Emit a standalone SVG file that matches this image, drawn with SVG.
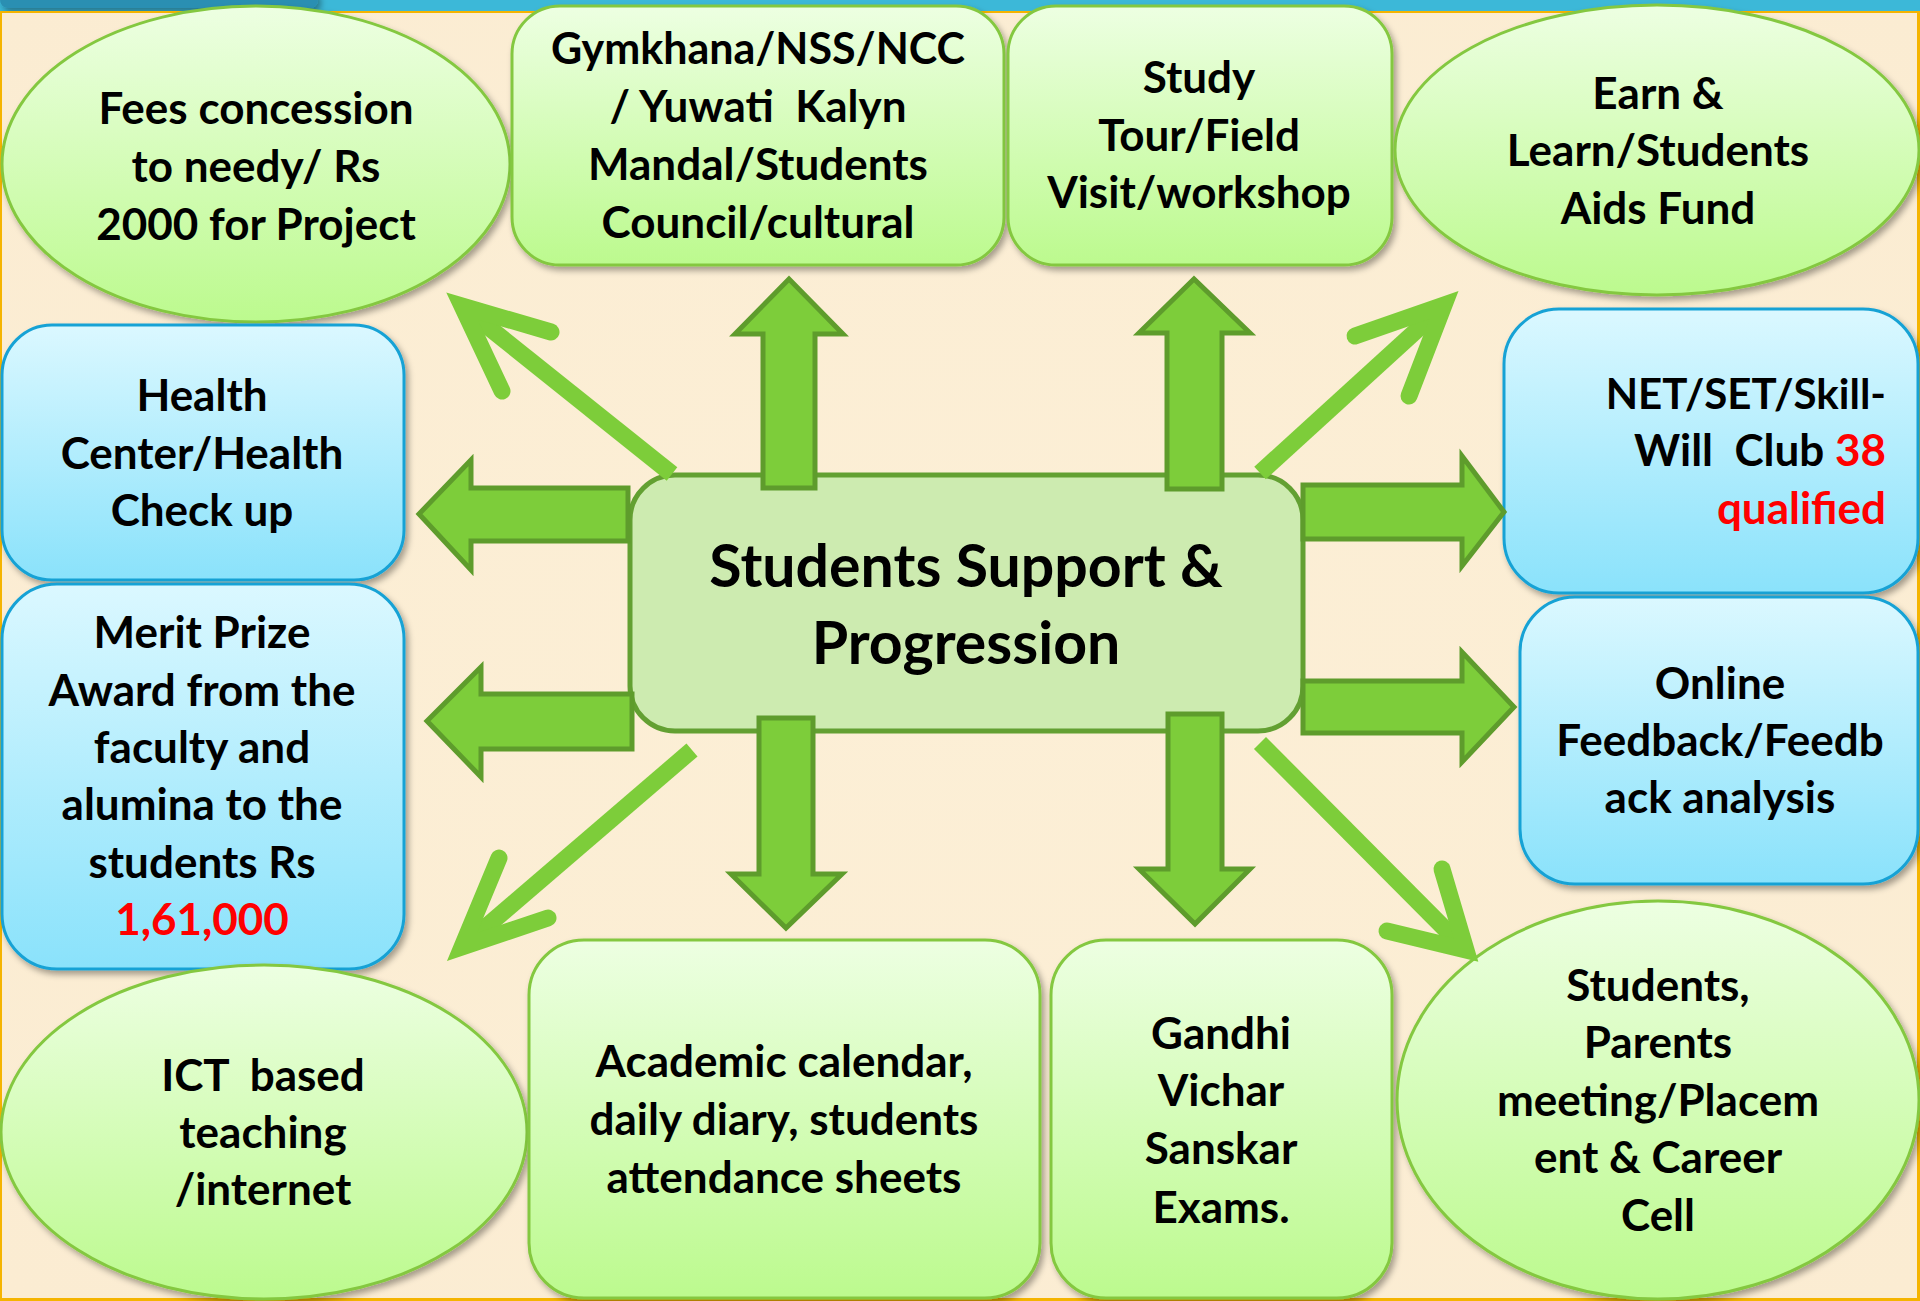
<svg xmlns="http://www.w3.org/2000/svg" width="1920" height="1301" viewBox="0 0 1920 1301">
<defs>
<linearGradient id="gGreen" x1="0" y1="0" x2="0" y2="1">
<stop offset="0" stop-color="#edffe2"/>
<stop offset="1" stop-color="#bcfa8e"/>
</linearGradient>
<linearGradient id="gBlue" x1="0" y1="0" x2="0" y2="1">
<stop offset="0" stop-color="#dbf8ff"/>
<stop offset="1" stop-color="#8ae2fb"/>
</linearGradient>
<radialGradient id="gBg" cx="0.5" cy="0.5" r="0.7">
<stop offset="0" stop-color="#fcefd6"/>
<stop offset="1" stop-color="#fbecd2"/>
</radialGradient>
<filter id="sh" x="-10%" y="-10%" width="120%" height="125%">
<feDropShadow dx="3" dy="4" stdDeviation="3" flood-color="#000" flood-opacity="0.35"/>
</filter>
</defs>
<style>
.gn{fill:url(#gGreen);stroke:#84c840;stroke-width:3;filter:url(#sh)}
.bn{fill:url(#gBlue);stroke:#17a2d5;stroke-width:3;filter:url(#sh)}
.t{font-family:Lato,"Open Sans","Liberation Sans",sans-serif;font-weight:700;font-size:44px;fill:#000;text-anchor:middle}
.r{fill:#ff0000}
.ba{fill:#7dcd3a;stroke:#5e9c2c;stroke-width:5;stroke-linejoin:miter}
.dl{fill:none;stroke:#7dcd3a;stroke-width:17}
.dh{fill:none;stroke:#7dcd3a;stroke-width:17;stroke-linecap:round;stroke-linejoin:miter;stroke-miterlimit:10}
</style>
<rect x="0" y="0" width="1920" height="1301" fill="url(#gBg)"/>
<rect x="0" y="0" width="1920" height="11" fill="#3cb8d8"/>
<rect x="0" y="-10" width="318" height="18" rx="8" fill="#2b8fb2" filter="url(#sh)"/>
<rect x="0" y="11" width="1920" height="2" fill="#f5b400"/>
<rect x="0" y="11" width="2" height="1290" fill="#f5b400"/>
<rect x="1917" y="11" width="3" height="1290" fill="#f5b400"/>
<rect x="0" y="1298" width="1920" height="3" fill="#f5b400"/>

<g id="node-fees">
<ellipse class="gn" cx="256" cy="164" rx="254" ry="158"/>
<text class="t" x="256" y="124">Fees concession</text>
<text class="t" x="256" y="182">to needy/ Rs</text>
<text class="t" x="256" y="240">2000 for Project</text>
</g>
<g id="node-gymkhana">
<rect class="gn" x="512" y="6" width="492" height="259" rx="48"/>
<text class="t" x="758" y="64" style="font-size:43px">Gymkhana/NSS/NCC</text>
<text class="t" x="758" y="122" xml:space="preserve">/ Yuwati  Kalyn</text>
<text class="t" x="758" y="180">Mandal/Students</text>
<text class="t" x="758" y="238">Council/cultural</text>
</g>
<g id="node-study">
<rect class="gn" x="1008" y="6" width="384" height="259" rx="48"/>
<text class="t" x="1199" y="93">Study</text>
<text class="t" x="1199" y="151">Tour/Field</text>
<text class="t" x="1199" y="208">Visit/workshop</text>
</g>
<g id="node-earn">
<ellipse class="gn" cx="1657" cy="150" rx="262" ry="145"/>
<text class="t" x="1658" y="109">Earn &amp;</text>
<text class="t" x="1658" y="166">Learn/Students</text>
<text class="t" x="1658" y="224">Aids Fund</text>
</g>
<g id="node-health">
<rect class="bn" x="2" y="325" width="402" height="255" rx="50"/>
<text class="t" x="202" y="411">Health</text>
<text class="t" x="202" y="469">Center/Health</text>
<text class="t" x="202" y="526">Check up</text>
</g>
<g id="node-merit">
<rect class="bn" x="2" y="584" width="402" height="385" rx="55"/>
<text class="t" x="202" y="648">Merit Prize</text>
<text class="t" x="202" y="706">Award from the</text>
<text class="t" x="202" y="763">faculty and</text>
<text class="t" x="202" y="820">alumina to the</text>
<text class="t" x="202" y="878">students Rs</text>
<text class="t r" x="202" y="935">1,61,000</text>
</g>
<g id="node-net">
<rect class="bn" x="1504" y="309" width="414" height="284" rx="55"/>
<text class="t" x="1886" y="409" style="text-anchor:end;font-size:42px">NET/SET/Skill-</text>
<text class="t" x="1886" y="466" style="text-anchor:end" xml:space="preserve">Will  Club <tspan class="r">38</tspan></text>
<text class="t r" x="1886" y="524" style="text-anchor:end">qualified</text>
</g>
<g id="node-online">
<rect class="bn" x="1520" y="597" width="398" height="287" rx="55"/>
<text class="t" x="1720" y="699">Online</text>
<text class="t" x="1720" y="756">Feedback/Feedb</text>
<text class="t" x="1720" y="813">ack analysis</text>
</g>
<g id="node-ict">
<ellipse class="gn" cx="264" cy="1132" rx="263" ry="167"/>
<text class="t" x="263" y="1091" xml:space="preserve">ICT  based</text>
<text class="t" x="263" y="1148">teaching</text>
<text class="t" x="263" y="1205">/internet</text>
</g>
<g id="node-academic">
<rect class="gn" x="529" y="940" width="511" height="358" rx="55"/>
<text class="t" x="784" y="1077">Academic calendar,</text>
<text class="t" x="784" y="1135">daily diary, students</text>
<text class="t" x="784" y="1193">attendance sheets</text>
</g>
<g id="node-gandhi">
<rect class="gn" x="1051" y="940" width="341" height="358" rx="55"/>
<text class="t" x="1221" y="1049">Gandhi</text>
<text class="t" x="1221" y="1106">Vichar</text>
<text class="t" x="1221" y="1164">Sanskar</text>
<text class="t" x="1221" y="1223">Exams.</text>
</g>
<g id="node-students">
<ellipse class="gn" cx="1658" cy="1100" rx="261" ry="199"/>
<text class="t" x="1658" y="1001">Students,</text>
<text class="t" x="1658" y="1058">Parents</text>
<text class="t" x="1658" y="1116">meeting/Placem</text>
<text class="t" x="1658" y="1173">ent &amp; Career</text>
<text class="t" x="1658" y="1231">Cell</text>
</g>
<g id="node-center">
<rect x="630" y="475" width="673" height="256" rx="45" fill="#cdebb0" stroke="#63a032" stroke-width="5"/>
<text class="t" x="966" y="587" style="font-size:59px">Students Support &amp;</text>
<text class="t" x="966" y="664" style="font-size:59px">Progression</text>
</g>
<g id="connectors">
<path class="ba" d="M763,488 L763,334 L735,334 L789,279 L843,334 L815,334 L815,488 Z"/>
<path class="ba" d="M1167,489 L1167,333 L1139,333 L1194,279 L1250,333 L1222,333 L1222,489 Z"/>
<path class="ba" d="M759,718 L759,874 L731,874 L786,928 L842,874 L813,874 L813,718 Z"/>
<path class="ba" d="M1168,714 L1168,869 L1139,869 L1195,924 L1250,869 L1222,869 L1222,714 Z"/>
<path class="ba" d="M1303,485 L1462,485 L1462,456 L1504,512 L1462,566 L1462,539 L1303,539 Z"/>
<path class="ba" d="M1303,681 L1462,681 L1462,652 L1514,707 L1462,762 L1462,733 L1303,733 Z"/>
<path class="ba" d="M628,488 L471,488 L471,460 L419,514 L471,570 L471,541 L628,541 Z"/>
<path class="ba" d="M632,694 L481,694 L481,667 L427,721 L481,777 L481,749 L632,749 Z"/>
<path class="dl" d="M672,474 L467,310"/>
<path class="dh" d="M551,332 L462,306 L502,391"/>
<path class="dl" d="M1260,473 L1440,309"/>
<path class="dh" d="M1355,336 L1444,305 L1409,396"/>
<path class="dl" d="M692,750 L466,944"/>
<path class="dh" d="M548,918 L462,947 L499,858"/>
<path class="dl" d="M1260,743 L1462,946"/>
<path class="dh" d="M1387,931 L1466,950 L1442,869"/>
</g>
</svg>
